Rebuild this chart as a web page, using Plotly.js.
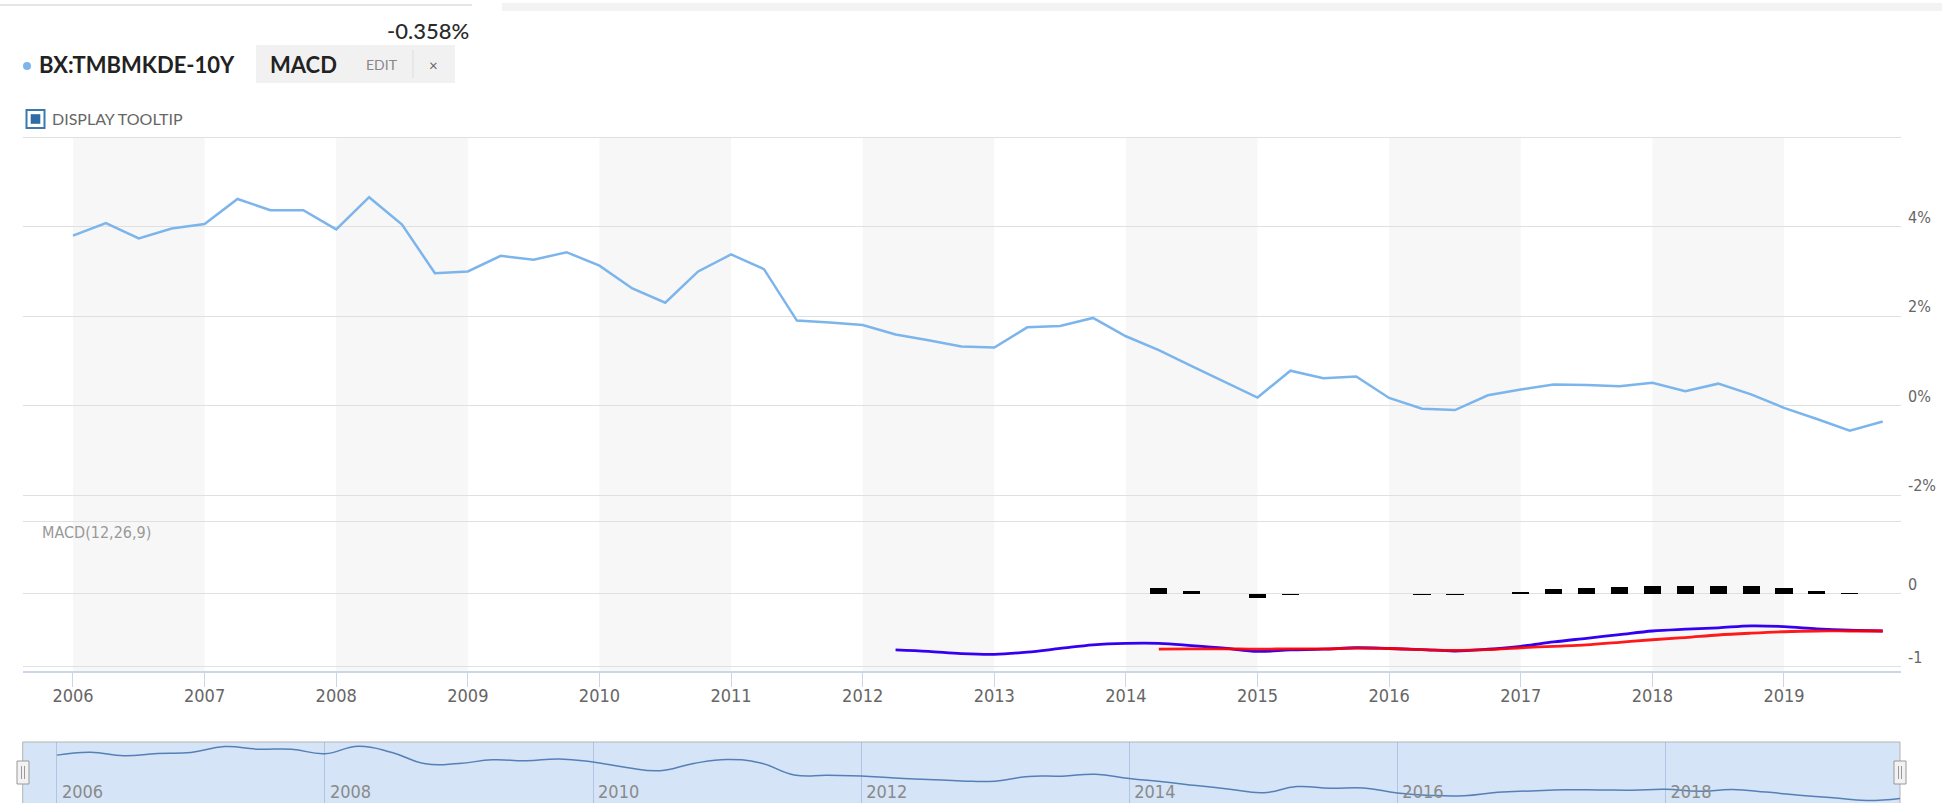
<!DOCTYPE html>
<html>
<head>
<meta charset="utf-8">
<script src="https://cdn.plot.ly/plotly-3.0.1.min.js"></script>
<style>
  html, body { margin: 0; padding: 0; background: #fff; }
  #chart { width: 1942px; height: 803px; }
</style>
</head>
<body>
<div id="chart"></div>
<script>
// ---------------- DATA ----------------
const quarters = [
  2006.00, 2006.25, 2006.50, 2006.75, 2007.00, 2007.25, 2007.50, 2007.75,
  2008.00, 2008.25, 2008.50, 2008.75, 2009.00, 2009.25, 2009.50, 2009.75,
  2010.00, 2010.25, 2010.50, 2010.75, 2011.00, 2011.25, 2011.50, 2011.75,
  2012.00, 2012.25, 2012.50, 2012.75, 2013.00, 2013.25, 2013.50, 2013.75,
  2014.00, 2014.25, 2014.50, 2014.75, 2015.00, 2015.25, 2015.50, 2015.75,
  2016.00, 2016.25, 2016.50, 2016.75, 2017.00, 2017.25, 2017.50, 2017.75,
  2018.00, 2018.25, 2018.50, 2018.75, 2019.00, 2019.25, 2019.50, 2019.75
];
const yieldPct = [
  3.80, 4.08, 3.74, 3.96, 4.06, 4.62, 4.37, 4.37,
  3.94, 4.66, 4.05, 2.96, 3.00, 3.35, 3.26, 3.43,
  3.13, 2.62, 2.30, 3.00, 3.38, 3.05, 1.90, 1.86,
  1.80, 1.59, 1.46, 1.32, 1.30, 1.75, 1.78, 1.96,
  1.55, 1.24, 0.88, 0.53, 0.18, 0.78, 0.61, 0.65,
  0.17, -0.07, -0.10, 0.23, 0.36, 0.47, 0.46, 0.43,
  0.51, 0.32, 0.49, 0.25, -0.05, -0.30, -0.56, -0.358
];

const macdX = [
  2012.25, 2012.50, 2012.75, 2013.00, 2013.25, 2013.50, 2013.75,
  2014.00, 2014.25, 2014.50, 2014.75, 2015.00, 2015.25, 2015.50, 2015.75,
  2016.00, 2016.25, 2016.50, 2016.75, 2017.00, 2017.25, 2017.50, 2017.75,
  2018.00, 2018.25, 2018.50, 2018.75, 2019.00, 2019.25, 2019.50, 2019.75
];
const macdLine = [
  -0.77, -0.79, -0.82, -0.83, -0.80, -0.75, -0.70,
  -0.68, -0.68, -0.71, -0.745, -0.79, -0.77, -0.76, -0.74,
  -0.75, -0.765, -0.785, -0.76, -0.72, -0.66, -0.61, -0.56,
  -0.51, -0.485, -0.466, -0.44, -0.45, -0.48, -0.50, -0.51
];

const signalX = [
  2014.25, 2014.50, 2014.75, 2015.00, 2015.25, 2015.50, 2015.75,
  2016.00, 2016.25, 2016.50, 2016.75, 2017.00, 2017.25, 2017.50, 2017.75,
  2018.00, 2018.25, 2018.50, 2018.75, 2019.00, 2019.25, 2019.50, 2019.75
];
const signalLine = [
  -0.76, -0.755, -0.755, -0.76, -0.755, -0.755, -0.745,
  -0.75, -0.765, -0.775, -0.765, -0.74, -0.72, -0.70, -0.665,
  -0.63, -0.60, -0.565, -0.54, -0.52, -0.51, -0.51, -0.51
];

const histX = [
  2014.25, 2014.50, 2014.75, 2015.00, 2015.25, 2015.50, 2015.75,
  2016.00, 2016.25, 2016.50, 2016.75, 2017.00, 2017.25, 2017.50, 2017.75,
  2018.00, 2018.25, 2018.50, 2018.75, 2019.00, 2019.25, 2019.50
];
const histVals = [
  0.077, 0.040, 0, -0.055, -0.020, 0, 0,
  0, -0.020, -0.020, 0, 0.020, 0.060, 0.077, 0.100,
  0.105, 0.105, 0.105, 0.105, 0.087, 0.041, 0.014
];

const yearTicks = [2006, 2007, 2008, 2009, 2010, 2011, 2012, 2013, 2014, 2015, 2016, 2017, 2018, 2019];
const yearLabels = ['2006','2007','2008','2009','2010','2011','2012','2013','2014','2015','2016','2017','2018','2019'];
const navTicks = [2006, 2008, 2010, 2012, 2014, 2016, 2018];
const navLabels = ['2006','2008','2010','2012','2014','2016','2018'];
const mainYTicks = [-2, 0, 2, 4, 6];
const mainYLabels = ['-2%', '0%', '2%', '4%', ''];
const macdYTicks = [-1, 0, 1];
const macdYLabels = ['-1', '0', ''];

const seriesName = 'BX:TMBMKDE-10Y';
const lastValueText = '-0.358%';
const indicatorName = 'MACD';
const indicatorTitle = 'MACD(12,26,9)';

// ---------------- LAYOUT HELPERS ----------------
const W = 1942, H = 803;
const X = px => px / W;
const Y = py => 1 - py / H;

const axisFont = { family: 'DejaVu Sans Condensed, DejaVu Sans, sans-serif', size: 16, color: '#666666' };
const headFont = 'Lato, "Open Sans", sans-serif';

const mainRange = [2005.618, 2019.889];
const plotX0 = 22.7, plotX1 = 1901;

// alternating year bands (from year ticks)
const shapes = [];
yearTicks.forEach(yr => {
  if (yr % 2 === 0) {
    shapes.push({
      type: 'rect', xref: 'x', yref: 'paper', layer: 'below',
      x0: yr, x1: yr + 1, y0: Y(671), y1: Y(137.3),
      fillcolor: '#f7f7f7', line: { width: 0 }
    });
  }
});

// navigator background
shapes.push({
  type: 'rect', xref: 'paper', yref: 'paper', layer: 'below',
  x0: X(22.7), x1: X(1900), y0: Y(806), y1: Y(742),
  fillcolor: '#d5e4f6', line: { color: '#b3b3b3', width: 1 }
});
// navigator handles
[[17, 29], [1894, 1906]].forEach(([a, b]) => {
  shapes.push({
    type: 'rect', xref: 'paper', yref: 'paper', layer: 'above',
    x0: X(a), x1: X(b), y0: Y(784), y1: Y(761),
    fillcolor: '#f2f2f2', line: { color: '#999999', width: 1 }
  });
  const m = (a + b) / 2;
  [m - 1.5, m + 1.5].forEach(lx => shapes.push({
    type: 'line', xref: 'paper', yref: 'paper', layer: 'above',
    x0: X(lx), x1: X(lx), y0: Y(779), y1: Y(766),
    line: { color: '#999999', width: 1 }
  }));
});

// header decorations
shapes.push({ type: 'line', xref: 'paper', yref: 'paper', x0: 0, x1: X(472), y0: Y(5), y1: Y(5), line: { color: '#dddddd', width: 1.5 } });
shapes.push({ type: 'rect', xref: 'paper', yref: 'paper', x0: X(502), x1: 1, y0: Y(11), y1: Y(3), fillcolor: '#f3f3f3', line: { width: 0 } });
shapes.push({ type: 'circle', xref: 'paper', yref: 'paper', x0: X(23), x1: X(31), y0: Y(70), y1: Y(62), fillcolor: '#7cb5ec', line: { width: 0 } });
shapes.push({ type: 'rect', xref: 'paper', yref: 'paper', x0: X(256), x1: X(455), y0: Y(83), y1: Y(45), fillcolor: '#f1f1f1', line: { width: 0 } });
shapes.push({ type: 'line', xref: 'paper', yref: 'paper', x0: X(413), x1: X(413), y0: Y(78), y1: Y(50), line: { color: '#dddddd', width: 1 } });
shapes.push({ type: 'rect', xref: 'paper', yref: 'paper', x0: X(26.5), x1: X(44.5), y0: Y(128), y1: Y(110), fillcolor: '#ffffff', line: { color: '#3a78ad', width: 2 } });
shapes.push({ type: 'rect', xref: 'paper', yref: 'paper', x0: X(30.7), x1: X(40.3), y0: Y(123.8), y1: Y(114.2), fillcolor: '#2e6da4', line: { width: 0 } });

const annotations = [
  { text: lastValueText, xref: 'paper', yref: 'paper', x: X(471), y: Y(30), xanchor: 'right', yanchor: 'middle', showarrow: false,
    font: { family: headFont, size: 22, color: '#2a2a2a', weight: 500 } },
  { text: seriesName, xref: 'paper', yref: 'paper', x: X(37), y: Y(65), xanchor: 'left', yanchor: 'middle', showarrow: false,
    font: { family: headFont, size: 22, color: '#222222', weight: 700 } },
  { text: indicatorName, xref: 'paper', yref: 'paper', x: X(268), y: Y(65), xanchor: 'left', yanchor: 'middle', showarrow: false,
    font: { family: headFont, size: 22, color: '#222222', weight: 700 } },
  { text: 'EDIT', xref: 'paper', yref: 'paper', x: X(364), y: Y(65), xanchor: 'left', yanchor: 'middle', showarrow: false,
    font: { family: headFont, size: 14, color: '#888888' } },
  { text: '×', xref: 'paper', yref: 'paper', x: X(433), y: Y(65), xanchor: 'center', yanchor: 'middle', showarrow: false,
    font: { family: headFont, size: 15, color: '#666666' } },
  { text: 'DISPLAY TOOLTIP', xref: 'paper', yref: 'paper', x: X(50), y: Y(118), xanchor: 'left', yanchor: 'middle', showarrow: false,
    font: { family: headFont, size: 16, color: '#666666' } },
  { text: indicatorTitle, xref: 'paper', yref: 'paper', x: X(40), y: Y(532), xanchor: 'left', yanchor: 'middle', showarrow: false,
    font: { family: 'DejaVu Sans Condensed, DejaVu Sans, sans-serif', size: 16, color: '#999999' } }
];

// right-side value labels, placed through the y scales, sitting just above each gridline
mainYTicks.forEach((v, i) => {
  if (mainYLabels[i]) annotations.push({
    text: mainYLabels[i], xref: 'paper', yref: 'y', x: X(1906), y: v, yshift: 9.5,
    xanchor: 'left', yanchor: 'middle', showarrow: false, font: axisFont
  });
});
macdYTicks.forEach((v, i) => {
  if (macdYLabels[i]) annotations.push({
    text: macdYLabels[i], xref: 'paper', yref: 'y2', x: X(1906), y: v, yshift: 9.5,
    xanchor: 'left', yanchor: 'middle', showarrow: false, font: axisFont
  });
});

// ---------------- TRACES ----------------
const traces = [
  { type: 'scatter', mode: 'lines', x: quarters, y: yieldPct, xaxis: 'x', yaxis: 'y',
    line: { color: '#7cb5ec', width: 2.5 }, hoverinfo: 'skip' },
  { type: 'bar', x: histX, y: histVals, xaxis: 'x2', yaxis: 'y2', width: 0.13,
    marker: { color: '#000000', line: { width: 0 } }, hoverinfo: 'skip' },
  { type: 'scatter', mode: 'lines', x: macdX, y: macdLine, xaxis: 'x2', yaxis: 'y2',
    line: { color: '#3300f2', width: 2.8, shape: 'spline', smoothing: 1 }, hoverinfo: 'skip' },
  { type: 'scatter', mode: 'lines', x: signalX, y: signalLine, xaxis: 'x2', yaxis: 'y2',
    line: { color: '#ff0000', width: 2.8, shape: 'spline', smoothing: 1 }, opacity: 0.9, hoverinfo: 'skip' },
  { type: 'scatter', mode: 'lines', x: quarters, y: yieldPct, xaxis: 'x3', yaxis: 'y3',
    line: { color: '#5580b6', width: 1.5, shape: 'spline', smoothing: 1.3 }, hoverinfo: 'skip' }
];

const layout = {
  width: W, height: H,
  margin: { l: 0, r: 0, t: 0, b: 0, pad: 0 },
  paper_bgcolor: '#ffffff', plot_bgcolor: 'rgba(0,0,0,0)',
  showlegend: false,
  bargap: 0,
  xaxis: { domain: [X(plotX0), X(plotX1)], range: mainRange, anchor: 'y',
    showticklabels: false, showgrid: false, zeroline: false, showline: false, ticks: '', fixedrange: true },
  yaxis: { domain: [Y(496.34), Y(135.96)], range: [-2.03, 6.03], anchor: 'x', side: 'right',
    tickmode: 'array', tickvals: mainYTicks, showticklabels: false,
    showgrid: true, gridcolor: '#e0e0e0', gridwidth: 1, zeroline: false, showline: false, ticks: '', fixedrange: true },
  xaxis2: { domain: [X(plotX0), X(plotX1)], range: mainRange, anchor: 'y2',
    tickmode: 'array', tickvals: yearTicks, ticktext: yearLabels,
    showgrid: false, zeroline: false, showline: true, linecolor: '#ccd6eb', linewidth: 1.5,
    ticks: 'outside', ticklen: 14, tickwidth: 1, tickcolor: '#ccd6eb', ticklabelstandoff: -6,
    tickfont: { family: axisFont.family, size: 18, color: '#666666' }, fixedrange: true },
  yaxis2: { domain: [Y(671.3), Y(519.54)], range: [-1.0632, 1.02], anchor: 'x2', side: 'right',
    tickmode: 'array', tickvals: macdYTicks, showticklabels: false,
    showgrid: true, gridcolor: '#e0e0e0', gridwidth: 1, zeroline: false, showline: false, ticks: '', fixedrange: true },
  xaxis3: { domain: [X(22.7), X(1900)], range: [2005.745, 2019.75], anchor: 'y3',
    tickmode: 'array', tickvals: navTicks, ticktext: navLabels,
    showgrid: true, gridcolor: 'rgba(110,140,185,0.35)', gridwidth: 1, zeroline: false, showline: false, ticks: '',
    ticklabelposition: 'inside right', ticklabelshift: 5, ticklabelstandoff: -5,
    tickfont: { family: axisFont.family, size: 18, color: '#8a8a8a' }, fixedrange: true },
  yaxis3: { domain: [0, Y(742)], range: [-0.80, 5.06], anchor: 'x3', visible: false, fixedrange: true },
  shapes: shapes,
  annotations: annotations
};

Plotly.newPlot('chart', traces, layout, { staticPlot: true, displayModeBar: false });
</script>
</body>
</html>
